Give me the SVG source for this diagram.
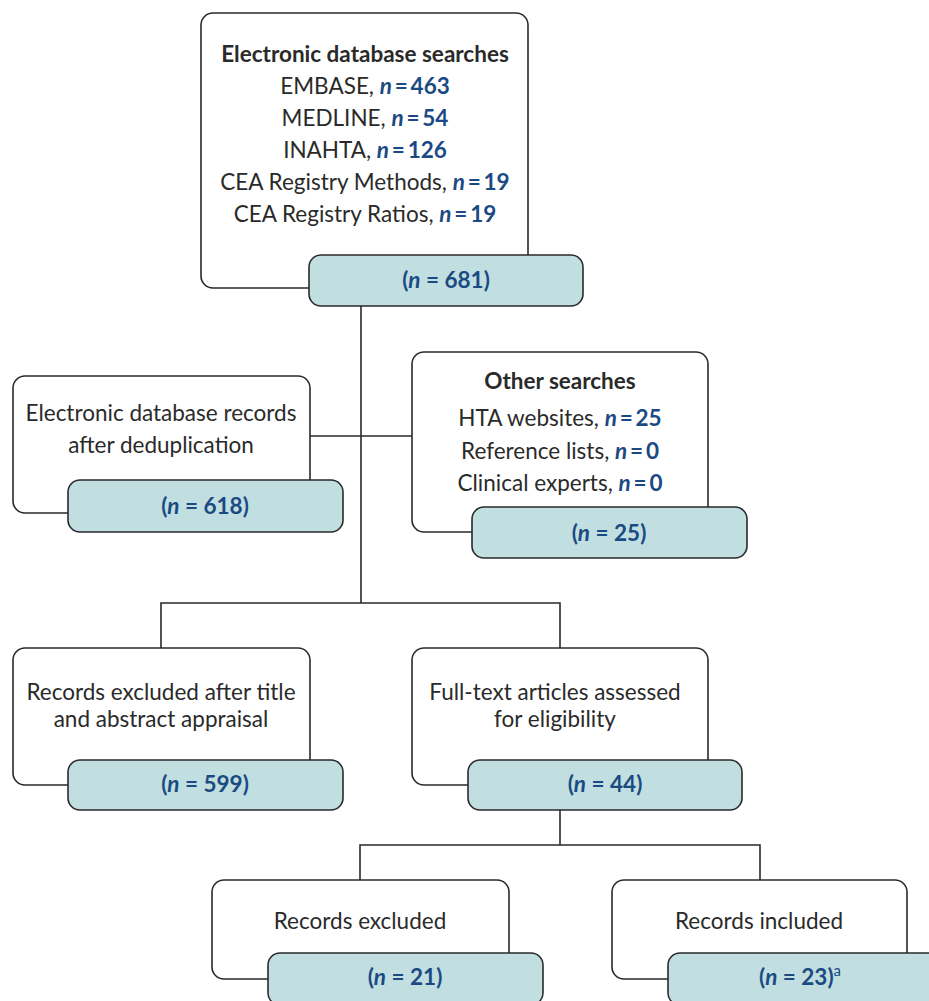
<svg xmlns="http://www.w3.org/2000/svg" width="929" height="1001" viewBox="0 0 929 1001">
<style>
.box{fill:#fff;stroke:#2a2a2a;stroke-width:1.6}
.tb{fill:#c1dfe0;stroke:#2a2a2a;stroke-width:1.6}
.ln{fill:none;stroke:#2a2a2a;stroke-width:1.6}
text{font-family:Lato,"Open Sans","Liberation Sans",sans-serif;font-size:22.5px;fill:#2a2a2a;text-anchor:middle}
.h{font-weight:bold}
.n{font-weight:bold;fill:#1b4a83}
.i{font-style:italic}
.sup{font-size:15px;font-weight:normal;fill:#1b4a83}
</style>
<g id="connectors">
<path class="ln" d="M361 306V603M310 436H412M161 648V603H560V648M560 810V845M360 880V845H760V880"/>
</g>
<g id="n-electronic">
<rect class="box" x="201" y="13" width="327" height="275" rx="12"/>
<text class="h" x="365" y="62">Electronic database searches</text>
<text x="365" y="94">EMBASE, <tspan class="n"><tspan class="i">n</tspan>&#8201;=&#8201;463</tspan></text>
<text x="365" y="126">MEDLINE, <tspan class="n"><tspan class="i">n</tspan>&#8201;=&#8201;54</tspan></text>
<text x="365" y="158">INAHTA, <tspan class="n"><tspan class="i">n</tspan>&#8201;=&#8201;126</tspan></text>
<text x="365" y="190">CEA Registry Methods, <tspan class="n"><tspan class="i">n</tspan>&#8201;=&#8201;19</tspan></text>
<text x="365" y="222">CEA Registry Ratios, <tspan class="n"><tspan class="i">n</tspan>&#8201;=&#8201;19</tspan></text>
<rect class="tb" x="309" y="255" width="274" height="51" rx="12"/>
<text class="n" x="446" y="288">(<tspan class="i">n</tspan> = 681)</text>
</g>
<g id="n-dedup">
<rect class="box" x="13" y="376" width="297" height="137" rx="12"/>
<text x="161" y="421">Electronic database records</text>
<text x="161" y="453">after deduplication</text>
<rect class="tb" x="68" y="480" width="275" height="52" rx="12"/>
<text class="n" x="205" y="514">(<tspan class="i">n</tspan> = 618)</text>
</g>
<g id="n-other">
<rect class="box" x="412" y="352" width="296" height="180" rx="12"/>
<text class="h" x="560" y="389">Other searches</text>
<text x="560" y="426">HTA websites, <tspan class="n"><tspan class="i">n</tspan>&#8201;=&#8201;25</tspan></text>
<text x="560" y="459">Reference lists, <tspan class="n"><tspan class="i">n</tspan>&#8201;=&#8201;0</tspan></text>
<text x="560" y="491">Clinical experts, <tspan class="n"><tspan class="i">n</tspan>&#8201;=&#8201;0</tspan></text>
<rect class="tb" x="472" y="507" width="275" height="51" rx="12"/>
<text class="n" x="609" y="541">(<tspan class="i">n</tspan> = 25)</text>
</g>
<g id="n-excluded1">
<rect class="box" x="13" y="648" width="297" height="137" rx="12"/>
<text x="161" y="700">Records excluded after title</text>
<text x="161" y="727">and abstract appraisal</text>
<rect class="tb" x="68" y="760" width="275" height="50" rx="12"/>
<text class="n" x="205" y="792">(<tspan class="i">n</tspan> = 599)</text>
</g>
<g id="n-fulltext">
<rect class="box" x="412" y="648" width="296" height="137" rx="12"/>
<text x="555" y="700">Full-text articles assessed</text>
<text x="555" y="727">for eligibility</text>
<rect class="tb" x="468" y="760" width="274" height="50" rx="12"/>
<text class="n" x="605" y="792">(<tspan class="i">n</tspan> = 44)</text>
</g>
<g id="n-excluded2">
<rect class="box" x="212" y="880" width="297" height="99" rx="12"/>
<text x="360" y="929">Records excluded</text>
<rect class="tb" x="268" y="953" width="275" height="52" rx="12"/>
<text class="n" x="405" y="985">(<tspan class="i">n</tspan> = 21)</text>
</g>
<g id="n-included">
<rect class="box" x="612" y="880" width="295" height="99" rx="12"/>
<text x="759" y="929">Records included</text>
<rect class="tb" x="668" y="953" width="275" height="52" rx="12"/>
<text class="n" x="800" y="985">(<tspan class="i">n</tspan> = 23)<tspan class="sup" dy="-9">a</tspan></text>
</g>
</svg>
